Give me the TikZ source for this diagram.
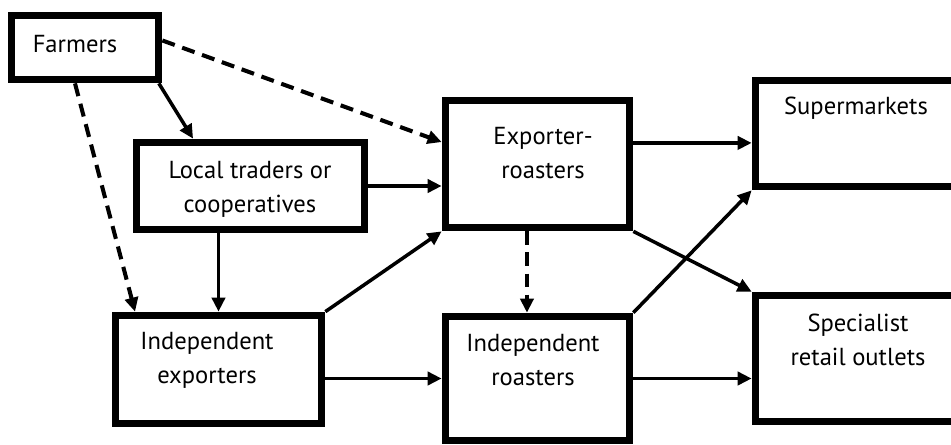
\documentclass[tikz,border=0pt]{standalone}
\usepackage{fontspec}
\setmainfont{PT Sans}
\usetikzlibrary{arrows.meta}

\begin{document}
\begin{tikzpicture}[x=0.02cm, y=-0.02cm,
	box/.style={draw, line width=4.4pt, inner sep=0pt},
	lbl/.style={align=center, inner sep=0pt, font=\fontsize{14}{19.5}\selectfont},
	flow/.style={line width=2pt, -{Triangle[length=8pt,width=7.5pt]}},
	maybe/.style={flow, line width=2.3pt, dash pattern=on 7.5pt off 4.5pt}]
	\clip (0,0) rectangle (951,444);
	\node[box, minimum width=2.94cm, minimum height=1.28cm] (farm) at (85,47.5) {};
	\node[box, minimum width=4.56cm, minimum height=1.74cm] (local) at (250.5,186) {};
	\node[box, minimum width=4.12cm, minimum height=2.16cm] (indexp) at (218.5,369.5) {};
	\node[box, minimum width=3.68cm, minimum height=2.54cm] (expr) at (537.5,164) {};
	\node[box, minimum width=3.68cm, minimum height=2.48cm] (indros) at (537.5,378.5) {};
	\node[box, minimum width=4.7cm, minimum height=2.12cm] (supm) at (873,133.5) {};
	\node[box, minimum width=4.7cm, minimum height=2.52cm] (spec) at (873,358.5) {};
	\node[lbl] (farmtxt) at (75,44) {Farmers};
	\node[lbl] (localtxt) at (250,189) {Local traders or\\cooperatives};
	\node[lbl] (indexptxt) at (207,360) {Independent\\exporters};
	\node[lbl] (exprtxt) at (543,153) {Exporter-\\roasters};
	\node[lbl] (indrostxt) at (533,360) {Independent\\roasters};
	\node[lbl] (supmtxt) at (856,108) {Supermarkets};
	\node[lbl] (spectxt) at (858,340) {Specialist\\retail outlets};
	\draw[maybe] ([yshift=4pt]farm.east) to ([yshift=12.5pt]expr.west);
	\draw[maybe] ([xshift=-5.7pt]farm.south) to ([xshift=-47.5pt]indexp.north);
	\draw[flow] ([xshift=-2pt]farm.south east) to ([xshift=-32.7pt]local.north);
	\draw[flow] (local.east) to (local.east -| expr.west);
	\draw[flow] (indexp.north |- local.south) to (indexp.north);
	\draw[flow] (indexp.north east) to (expr.south west);
	\draw[flow] (indros.west -| indexp.east) to (indros.west);
	\draw[maybe] ([xshift=-6pt]expr.south) to ([xshift=-6pt]indros.north);
	\draw[flow] ([yshift=12pt]expr.east) to ([yshift=12pt]expr.east -| supm.west);
	\draw[flow] (expr.south east) to (spec.north west);
	\draw[flow] (indros.north east) to (supm.south west);
	\draw[flow] (indros.east) to (indros.east -| spec.west);
\end{tikzpicture}
\end{document}
